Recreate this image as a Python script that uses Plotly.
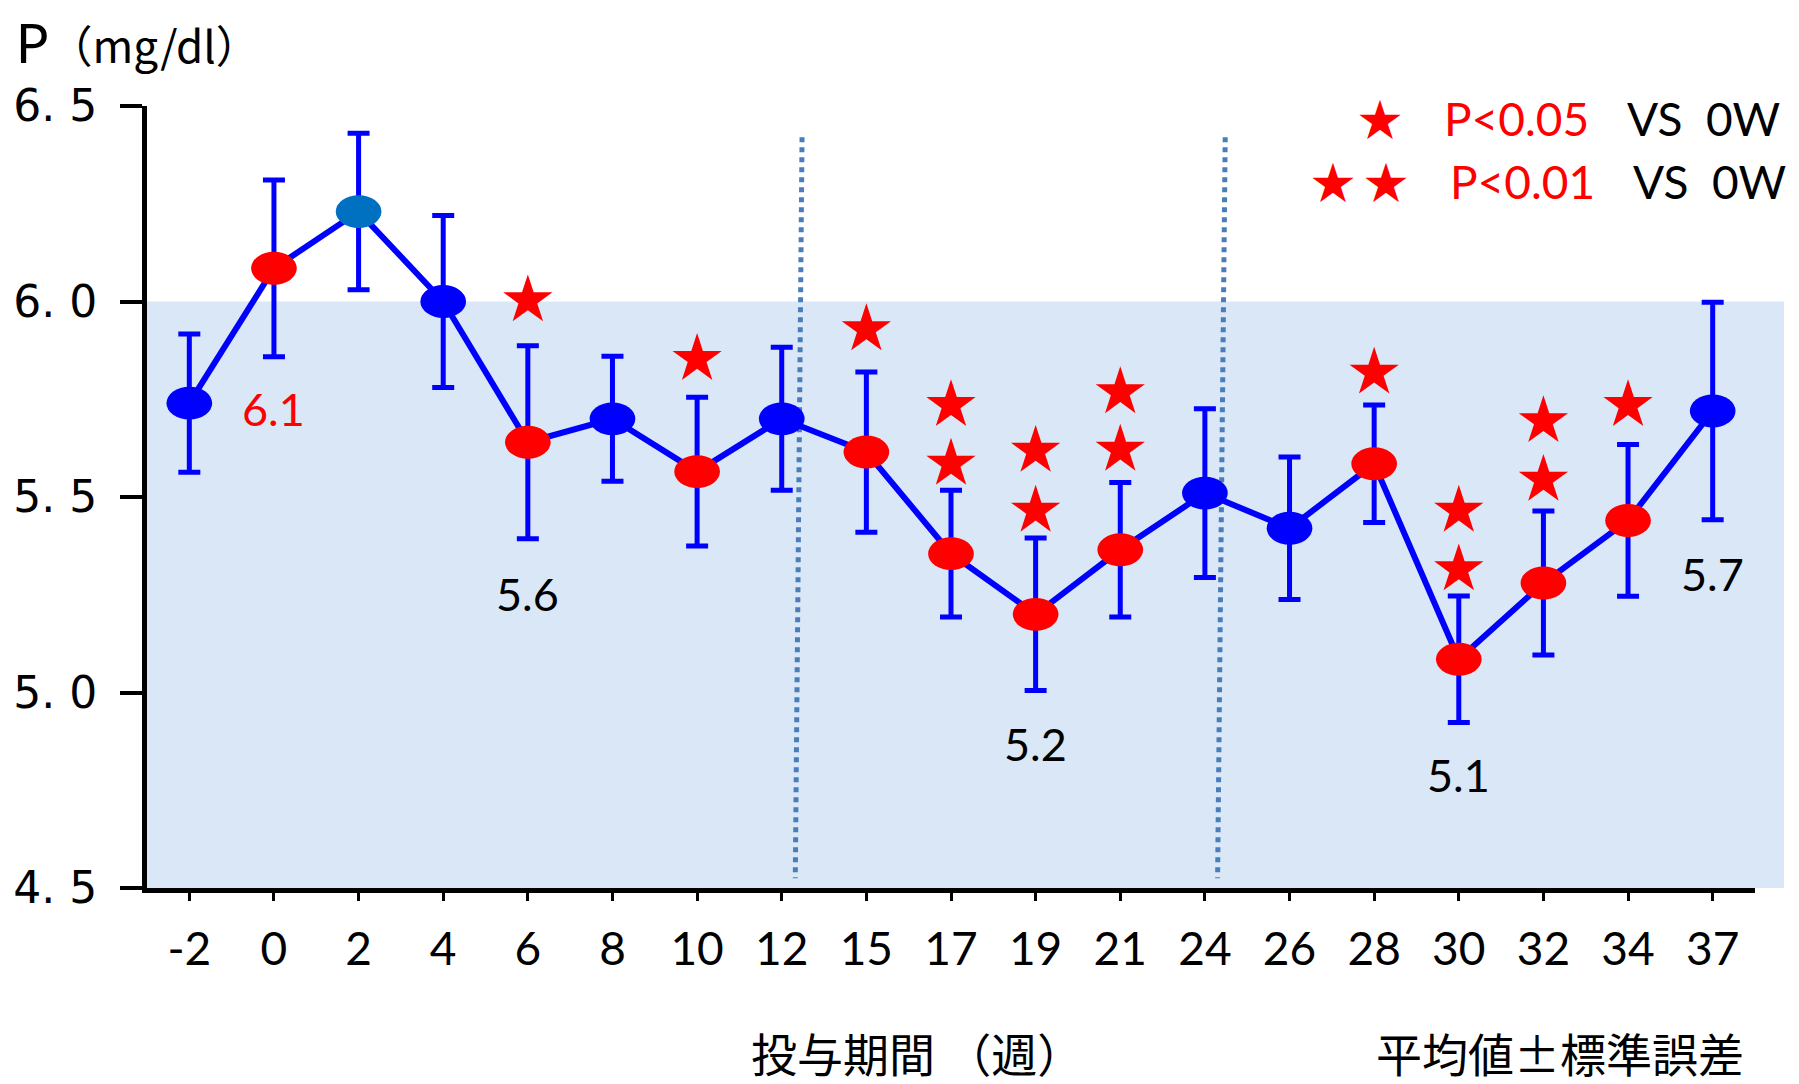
import plotly.graph_objects as go

# ---------------- data ----------------
weeks = ["-2", "0", "2", "4", "6", "8", "10", "12", "15", "17", "19", "21",
         "24", "26", "28", "30", "32", "34", "37"]
means = [5.74, 6.085, 6.23, 6.00, 5.64, 5.70, 5.565, 5.70, 5.615, 5.355, 5.20,
         5.365, 5.51, 5.42, 5.585, 5.085, 5.28, 5.44, 5.72]
sem = [0.177, 0.226, 0.20, 0.22, 0.247, 0.16, 0.19, 0.183, 0.205, 0.162, 0.195,
       0.172, 0.216, 0.182, 0.15, 0.162, 0.184, 0.194, 0.278]
point_colors = ["#0000FF", "#FF0000", "#0070C0", "#0000FF", "#FF0000", "#0000FF",
                "#FF0000", "#0000FF", "#FF0000", "#FF0000", "#FF0000", "#FF0000",
                "#0000FF", "#0000FF", "#FF0000", "#FF0000", "#FF0000", "#FF0000",
                "#0000FF"]
star_weeks = ["6", "10", "15", "17", "17", "19", "19", "21", "21", "28",
              "30", "30", "32", "32", "34"]
star_y = [6.003, 5.853, 5.929, 5.585, 5.735, 5.465, 5.618, 5.621, 5.768, 5.818,
          5.315, 5.465, 5.544, 5.694, 5.735]
label_weeks = ["0", "6", "19", "30", "37"]
label_text = ["6.1", "5.6", "5.2", "5.1", "5.7"]
label_y = [5.724, 5.253, 4.868, 4.788, 5.303]
label_colors = ["#FF0000", "#000000", "#000000", "#000000", "#000000"]
ytick_vals = [4.5, 5.0, 5.5, 6.0, 6.5]
ytick_text = ["4. 5", "5. 0", "5. 5", "6. 0", "6. 5"]
normal_upper = 6.0

# ---------------- layout geometry ----------------
OFF = 8                      # page body margin
W, H = 1799 - OFF, 1084 - OFF
PLOT_X0, PLOT_X1, PLOT_Y0, PLOT_Y1 = 147, 1755, 106, 888   # in screenshot px
L, T = PLOT_X0 - OFF, PLOT_Y0 - OFF
pw, ph = PLOT_X1 - PLOT_X0, PLOT_Y1 - PLOT_Y0
R, B = W - L - pw, H - T - ph


def px(x):
    return (x - PLOT_X0) / pw


def py(y):
    return (PLOT_Y1 - y) / ph


idx = list(range(len(weeks)))
pos = {w: i for i, w in enumerate(weeks)}

fig = go.Figure()

# connecting line with error bars
fig.add_trace(go.Scatter(
    x=idx, y=means, mode="lines",
    line=dict(color="#0000FF", width=6),
    error_y=dict(type="data", array=sem, visible=True, color="#0000FF",
                 thickness=5, width=11),
    hoverinfo="skip", showlegend=False, cliponaxis=False,
))

# significance stars
fig.add_trace(go.Scatter(
    x=[pos[w] for w in star_weeks], y=star_y, mode="markers",
    marker=dict(symbol="star", size=37, color="#FF0000", line=dict(width=0)),
    hoverinfo="skip", showlegend=False, cliponaxis=False,
))

shapes = []
# light-blue normal range background
shapes.append(dict(type="rect", xref="paper", yref="y", x0=0, x1=px(1784),
                   y0=4.5, y1=normal_upper, fillcolor="#D9E7F6",
                   line=dict(width=0), layer="below"))
# period dividers (dotted)
for (xt, xb) in [(7.24, 7.16), (12.24, 12.15)]:
    shapes.append(dict(type="line", xref="x", yref="y", x0=xt, x1=xb,
                       y0=6.42, y1=4.525,
                       line=dict(color="#4A7EBB", width=5, dash="dot"),
                       layer="below"))
# ellipse markers
hw, hh = 0.27, 0.042
for i, (m, c) in enumerate(zip(means, point_colors)):
    shapes.append(dict(type="circle", xref="x", yref="y",
                       x0=i - hw, x1=i + hw, y0=m - hh, y1=m + hh,
                       fillcolor=c, line=dict(width=0), layer="above"))

annotations = []
for w, t, y, c in zip(label_weeks, label_text, label_y, label_colors):
    annotations.append(dict(x=pos[w], y=y, xref="x", yref="y", text=t,
                            showarrow=False, xanchor="center", yanchor="middle",
                            font=dict(family="Lato", size=45, color=c)))


def pa(x, y, text, family, size, color, xanchor="center", yanchor="middle"):
    return dict(x=px(x), y=py(y), xref="paper", yref="paper", text=text,
                showarrow=False, xanchor=xanchor, yanchor=yanchor,
                font=dict(family=family, size=size, color=color))


# axis unit label
annotations.append(pa(14, OFF,
                      "P<span style='font-family:Noto Sans CJK JP;font-size:44px'>（mg/dl）</span>",
                      "Lato", 54, "#000000", xanchor="left", yanchor="top"))

# legend (custom)
annotations += [
    pa(1380, 117, "★", "Noto Sans CJK JP", 44, "#FF0000"),
    pa(1516, 118, "P<0.05", "Lato", 46, "#FF0000"),
    pa(1703, 118, "VS  0W", "Lato", 46, "#000000"),
    pa(1333, 180, "★", "Noto Sans CJK JP", 44, "#FF0000"),
    pa(1386, 180, "★", "Noto Sans CJK JP", 44, "#FF0000"),
    pa(1522, 181, "P<0.01", "Lato", 46, "#FF0000"),
    pa(1709, 181, "VS  0W", "Lato", 46, "#000000"),
]

# bottom texts
annotations.append(pa(917, 1052, "投与期間 （週）", "Noto Sans CJK JP", 46, "#000000"))
annotations.append(pa(1560, 1052, "平均値±標準誤差", "Noto Sans CJK JP", 46, "#000000"))

fig.update_layout(
    template="none",
    width=W, height=H,
    margin=dict(l=L, r=R, t=T, b=B, pad=0, autoexpand=False),
    paper_bgcolor="#FFFFFF", plot_bgcolor="rgba(0,0,0,0)",
    shapes=shapes, annotations=annotations, showlegend=False,
)
fig.update_xaxes(
    automargin=False,
    range=[-0.5, 18.5], tickmode="array", tickvals=idx, ticktext=weeks,
    showgrid=False, zeroline=False, showline=True, linecolor="#000000",
    linewidth=5, ticks="outside", ticklen=8, tickwidth=3, tickcolor="#000000",
    tickfont=dict(family="Lato", size=46, color="#000000"),
    ticklabelstandoff=9,
)
fig.update_yaxes(
    automargin=False,
    range=[4.5, 6.5], tickmode="array", tickvals=ytick_vals, ticktext=ytick_text,
    showgrid=False, zeroline=False, showline=True, linecolor="#000000",
    linewidth=5, ticks="outside", ticklen=22, tickwidth=4, tickcolor="#000000",
    tickfont=dict(family="DejaVu Sans", size=44, color="#000000"),
    ticklabelstandoff=14,
)

fig.write_html("out.html")
